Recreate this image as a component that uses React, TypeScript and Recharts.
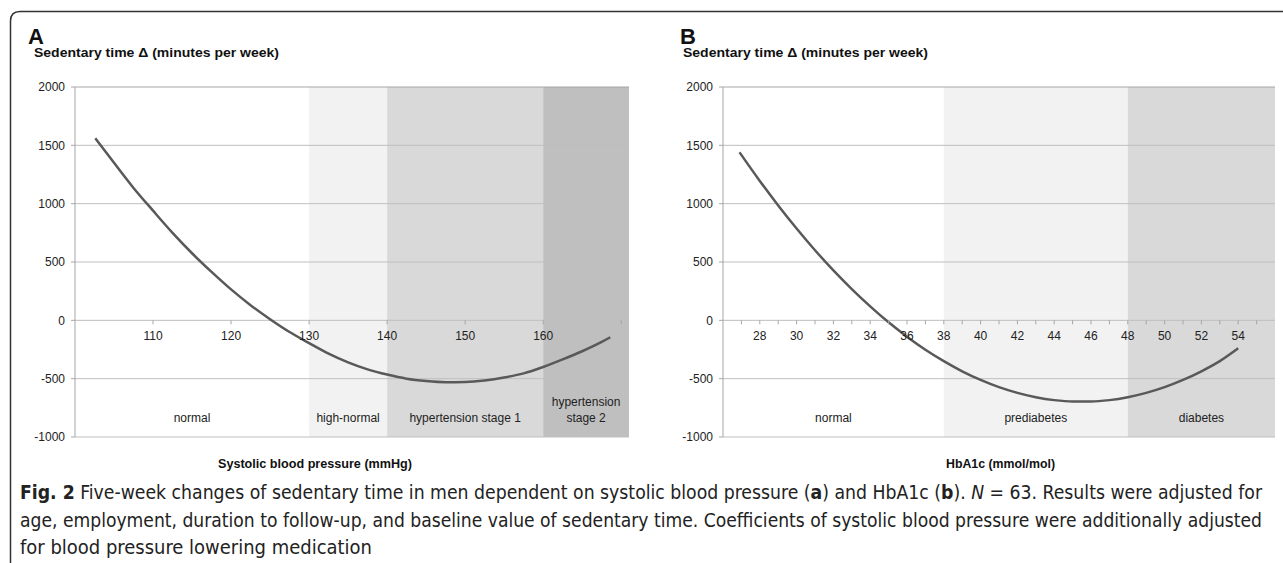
import React from 'react';
import { LineChart, Line, XAxis, YAxis, ReferenceArea, ReferenceLine } from 'recharts';

// Panel A: systolic blood pressure (mmHg) vs sedentary time change
const sbpValues = [102.6, 105, 107.5, 110, 112.5, 115, 117.5, 120, 122.5, 125, 127.5, 130, 132.5, 135, 137.5, 140, 142.5, 145, 147.5, 150, 152.5, 155, 157.5, 160, 162.5, 165, 167.5, 168.6];
const sbpDelta = [1560, 1350, 1135, 940, 750, 575, 415, 265, 130, 10, -100, -195, -285, -360, -420, -465, -500, -520, -530, -528, -515, -490, -455, -400, -335, -265, -185, -145];
const sbpTicks = [110, 120, 130, 140, 150, 160, 170];
const sbpLabelled = [110, 120, 130, 140, 150, 160];
const sbpBands = [
  { from: 100, to: 130, fill: 'none', label: ['normal'] },
  { from: 130, to: 140, fill: '#f2f2f2', label: ['high-normal'] },
  { from: 140, to: 160, fill: '#d9d9d9', label: ['hypertension stage 1'] },
  { from: 160, to: 171, fill: '#bfbfbf', label: ['hypertension', 'stage 2'] },
];

// Panel B: HbA1c (mmol/mol) vs sedentary time change
const hbaValues = [26.9, 28, 29, 30, 31, 32, 33, 34, 35, 36, 37, 38, 39, 40, 41, 42, 43, 44, 45, 46, 47, 48, 49, 50, 51, 52, 53, 54];
const hbaDelta = [1440, 1195, 985, 787, 601, 428, 268, 120, -17, -140, -252, -350, -437, -511, -573, -622, -659, -684, -696, -696, -684, -659, -622, -573, -511, -437, -350, -240];
const hbaTicks = [27, 28, 29, 30, 31, 32, 33, 34, 35, 36, 37, 38, 39, 40, 41, 42, 43, 44, 45, 46, 47, 48, 49, 50, 51, 52, 53, 54, 55];
const hbaLabelled = [28, 30, 32, 34, 36, 38, 40, 42, 44, 46, 48, 50, 52, 54];
const hbaBands = [
  { from: 26, to: 38, fill: 'none', label: ['normal'] },
  { from: 38, to: 48, fill: '#f2f2f2', label: ['prediabetes'] },
  { from: 48, to: 56, fill: '#d9d9d9', label: ['diabetes'] },
];

const yTicks = [-1000, -500, 0, 500, 1000, 1500, 2000];
const FONT = '"Liberation Sans", Arial, sans-serif';
const PLOT_TOP = 87;
const PLOT_H = 350;
const ZERO_Y = PLOT_TOP + PLOT_H * (2000 / 3000);

const makeTick = (labelled: number[]) => (props: any) => {
  const { x, payload } = props;
  const v = payload.value;
  return (
    <g>
      <line x1={x} x2={x} y1={ZERO_Y} y2={ZERO_Y + 4} stroke="#a6a6a6" />
      {labelled.includes(v) && (
        <text x={x} y={ZERO_Y + 20} textAnchor="middle" fontSize={12} fill="#222" fontFamily={FONT}>
          {v}
        </text>
      )}
    </g>
  );
};

const bandLabel = (lines: string[]) => (props: any) => {
  const { x, y, width, height } = props.viewBox;
  const cx = x + width / 2;
  const base = y + height - 15;
  return (
    <text textAnchor="middle" fontSize={12} fill="#222" fontFamily={FONT}>
      {lines.map((l, i) => (
        <tspan key={i} x={cx} y={base - (lines.length - 1 - i) * 16}>{l}</tspan>
      ))}
    </text>
  );
};

interface PanelProps {
  xs: number[];
  ys: number[];
  domain: [number, number];
  ticks: number[];
  labelled: number[];
  bands: { from: number; to: number; fill: string; label: string[] }[];
  width: number;
  left: number;
  right: number;
}

const Panel: React.FC<PanelProps> = ({ xs, ys, domain, ticks, labelled, bands, width, left, right }) => {
  const data = xs.map((x, i) => ({ x, y: ys[i] }));
  return (
    <LineChart width={width} height={450} data={data} margin={{ top: PLOT_TOP, right, bottom: 12, left }}>
      <XAxis
        dataKey="x"
        type="number"
        domain={domain}
        ticks={ticks}
        interval={0}
        allowDataOverflow
        axisLine={false}
        tickLine={false}
        height={1}
        tick={makeTick(labelled)}
      />
      <YAxis
        type="number"
        domain={[-1000, 2000]}
        ticks={yTicks}
        interval={0}
        width={45}
        tickSize={4}
        tickMargin={6}
        axisLine={{ stroke: '#a6a6a6' }}
        tickLine={{ stroke: '#a6a6a6' }}
        tick={{ fontSize: 12, fill: '#222', fontFamily: FONT }}
      />
      {bands.map((b) => (
        <ReferenceArea
          key={b.from}
          x1={b.from}
          x2={b.to}
          y1={-1000}
          y2={2000}
          fill={b.fill}
          fillOpacity={1}
          stroke="none"
          label={bandLabel(b.label)}
        />
      ))}
      {yTicks.map((t) => (
        <ReferenceLine key={t} y={t} stroke={t === 2000 ? '#a6a6a6' : '#bfbfbf'} strokeWidth={1} />
      ))}
      <Line type="monotone" dataKey="y" stroke="#595959" strokeWidth={2.5} dot={false} isAnimationActive={false} />
    </LineChart>
  );
};

export default function App() {
  return (
    <div style={{ position: 'absolute', left: 0, top: 0, width: 1283, height: 563, overflow: 'hidden', background: '#fff' }}>
      <svg width={1283} height={563} style={{ position: 'absolute', left: 0, top: 0 }} fontFamily={FONT}>
        <path d="M 10.5 600 L 10.5 21 Q 10.5 11.5 20 11.5 L 1300 11.5" fill="none" stroke="#333" strokeWidth={1.5} />
        <text x={28} y={44} fontSize={22} fontWeight="bold" fill="#111">A</text>
        <text x={680} y={44} fontSize={22} fontWeight="bold" fill="#111">B</text>
        <text x={34} y={57} fontSize={12} fontWeight="bold" fill="#111" textLength={245} lengthAdjust="spacingAndGlyphs">Sedentary time Δ (minutes per week)</text>
        <text x={683} y={57} fontSize={12} fontWeight="bold" fill="#111" textLength={245} lengthAdjust="spacingAndGlyphs">Sedentary time Δ (minutes per week)</text>
        <text x={218} y={468} fontSize={12} fontWeight="bold" fill="#111" textLength={194} lengthAdjust="spacingAndGlyphs">Systolic blood pressure (mmHg)</text>
        <text x={946} y={468} fontSize={12} fontWeight="bold" fill="#111" textLength={109} lengthAdjust="spacingAndGlyphs">HbA1c (mmol/mol)</text>
        <g fontFamily={'"Liberation Sans Narrow", "DejaVu Sans Condensed", "Liberation Sans", sans-serif'} fontSize={19} fill="#222">
          <text x={20} y={499} textLength={1242} lengthAdjust="spacingAndGlyphs">
            <tspan fontWeight="bold">Fig. 2</tspan>
            {' Five-week changes of sedentary time in men dependent on systolic blood pressure ('}
            <tspan fontWeight="bold">a</tspan>
            {') and HbA1c ('}
            <tspan fontWeight="bold">b</tspan>
            {'). '}
            <tspan fontStyle="italic">N</tspan>
            {' = 63. Results were adjusted for'}
          </text>
          <text x={20} y={527} textLength={1242} lengthAdjust="spacingAndGlyphs">
            age, employment, duration to follow-up, and baseline value of sedentary time. Coefficients of systolic blood pressure were additionally adjusted
          </text>
          <text x={20} y={554} textLength={352} lengthAdjust="spacingAndGlyphs">
            for blood pressure lowering medication
          </text>
        </g>
      </svg>
      <div style={{ position: 'absolute', left: 0, top: 0 }}>
        <Panel xs={sbpValues} ys={sbpDelta} domain={[100, 171]} ticks={sbpTicks} labelled={sbpLabelled} bands={sbpBands} width={640} left={30} right={11} />
      </div>
      <div style={{ position: 'absolute', left: 640, top: 0 }}>
        <Panel xs={hbaValues} ys={hbaDelta} domain={[26, 56]} ticks={hbaTicks} labelled={hbaLabelled} bands={hbaBands} width={643} left={38} right={8} />
      </div>
    </div>
  );
}
